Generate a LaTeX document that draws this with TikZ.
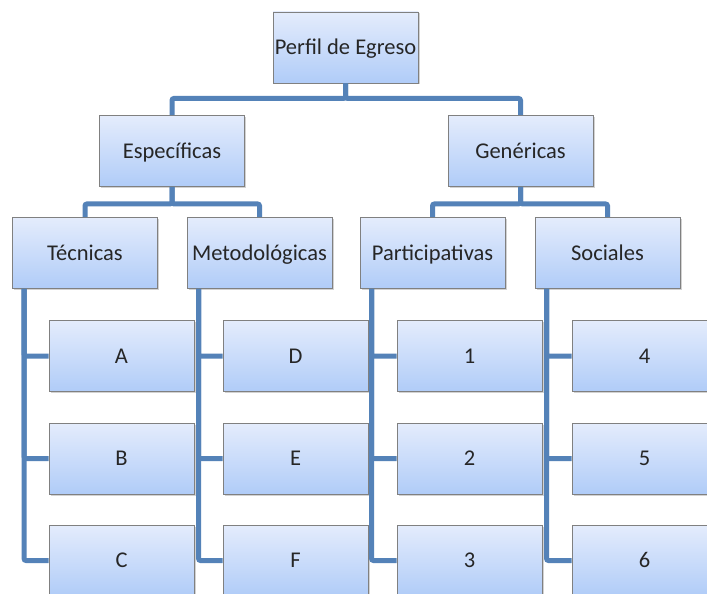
\documentclass[tikz,border=0pt]{standalone}
\usepackage{fontspec}
\setmainfont{Carlito}
\usetikzlibrary{shadows}
\definecolor{boxtop}{RGB}{228, 236, 252}
\definecolor{boxbot}{RGB}{176, 204, 248}
\definecolor{linkblue}{RGB}{84, 130, 184}

\tikzset{
  box/.style={draw=black!50, line width=0.9pt, top color=boxtop, bottom color=boxbot,
              minimum width=145pt, minimum height=71pt, inner sep=0pt,
              font=\fontsize{22.5}{26}\selectfont, text=black!85,
              text height=14.5pt, text depth=0pt,
              drop shadow={shadow xshift=1.5pt, shadow yshift=-1.5pt, opacity=0.35}},
  link/.style={draw=linkblue, line width=5pt, rounded corners=2pt}
}

\begin{document}
\begin{tikzpicture}[x=1pt, y=-1pt]
                    \clip (0,0) rectangle (707,594);
                    \fill[white] (0,0) rectangle (707,594);

                    \node[box] (perfil) at (345.5,47.5) {Perfil de Egreso};
                    \node[box] (esp) at (172,151) {Específicas};
                    \node[box] (gen) at (520.5,151) {Genéricas};
                    \node[box] (tec) at (85,253) {Técnicas};
                    \node[box] (met) at (259.5,253) {Metodológicas};
                    \node[box] (par) at (432.5,253) {Participativas};
                    \node[box] (soc) at (607.5,253) {Sociales};

                    \node[box] (a) at (121.5,356) {A};
                    \node[box] (b) at (121.5,458.5) {B};
                    \node[box] (c) at (121.5,560.5) {C};
                    \node[box] (d) at (295.5,356) {D};
                    \node[box] (e) at (295.5,458.5) {E};
                    \node[box] (f) at (295.5,560.5) {F};
                    \node[box] (n1) at (469.5,356) {1};
                    \node[box] (n2) at (469.5,458.5) {2};
                    \node[box] (n3) at (469.5,560.5) {3};
                    \node[box] (n4) at (644.5,356) {4};
                    \node[box] (n5) at (644.5,458.5) {5};
                    \node[box] (n6) at (644.5,560.5) {6};

                    % top levels
                    \draw[link] (perfil.south) -- ++(0,15) -| (esp.north);
                    \draw[link] (perfil.south) -- ++(0,15) -| (gen.north);
                    \draw[link] (esp.south) -- ++(0,17) -| (tec.north);
                    \draw[link] (esp.south) -- ++(0,17) -| (met.north);
                    \draw[link] (gen.south) -- ++(0,17) -| (par.north);
                    \draw[link] (gen.south) -- ++(0,17) -| (soc.north);

                    % lists
                    \draw[link] (tec.south west) ++(12,0) |- (a.west);
                    \draw[link] (tec.south west) ++(12,0) |- (b.west);
                    \draw[link] (tec.south west) ++(12,0) |- (c.west);
                    \draw[link] (met.south west) ++(12,0) |- (d.west);
                    \draw[link] (met.south west) ++(12,0) |- (e.west);
                    \draw[link] (met.south west) ++(12,0) |- (f.west);
                    \draw[link] (par.south west) ++(12,0) |- (n1.west);
                    \draw[link] (par.south west) ++(12,0) |- (n2.west);
                    \draw[link] (par.south west) ++(12,0) |- (n3.west);
                    \draw[link] (soc.south west) ++(12,0) |- (n4.west);
                    \draw[link] (soc.south west) ++(12,0) |- (n5.west);
                    \draw[link] (soc.south west) ++(12,0) |- (n6.west);
                \end{tikzpicture}
\end{document}
